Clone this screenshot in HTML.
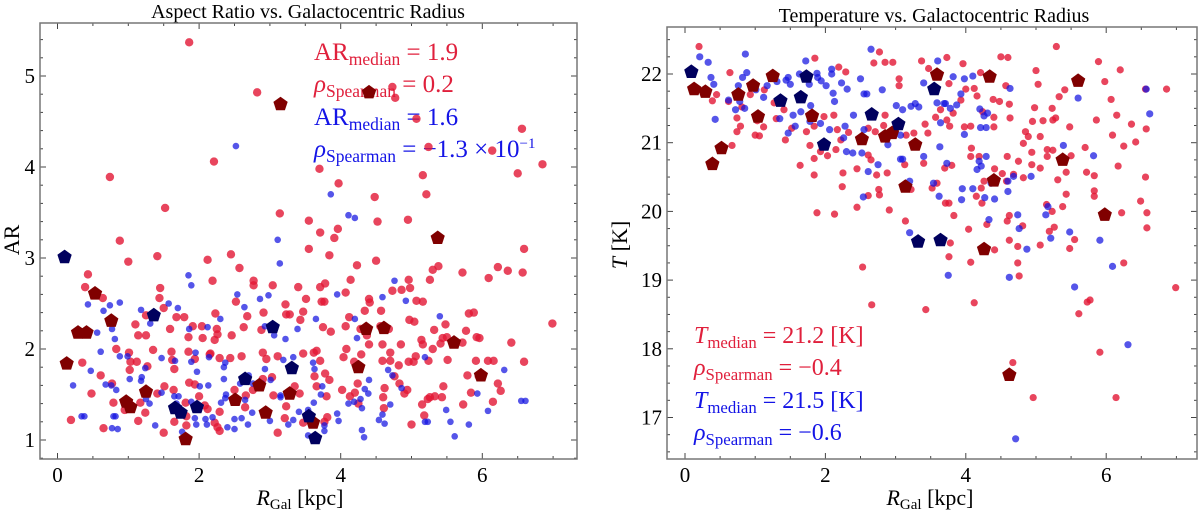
<!DOCTYPE html>
<html><head><meta charset="utf-8"><style>
html,body{margin:0;padding:0;background:#fff;}
svg{display:block;font-family:"Liberation Serif",serif;}
</style></head><body>
<svg id="chart" width="1200" height="512" viewBox="0 0 1200 512">
<rect width="1200" height="512" fill="#fff"/>
<text x="308" y="18" font-size="20" text-anchor="middle">Aspect Ratio vs. Galactocentric Radius</text>
<text x="934" y="22" font-size="20" text-anchor="middle">Temperature vs. Galactocentric Radius</text>
<text x="300" y="505" font-size="22" text-anchor="middle"><tspan font-style="italic">R</tspan><tspan font-size="15" dy="4">Gal</tspan><tspan dy="-4"> [kpc]</tspan></text>
<text x="930" y="505" font-size="22" text-anchor="middle"><tspan font-style="italic">R</tspan><tspan font-size="15" dy="4">Gal</tspan><tspan dy="-4"> [kpc]</tspan></text>
<text transform="translate(19,240) rotate(-90)" font-size="22" text-anchor="middle">AR</text>
<text transform="translate(627,245) rotate(-90)" font-size="22" text-anchor="middle"><tspan font-style="italic">T</tspan> [K]</text>
<g id="lp"></g>
<g id="rp"></g>
</svg>
<script>
const arRed=[[1.86,5.37],[2.82,4.82],[4.73,4.88],[4.77,4.76],[5.07,4.53],[6.56,4.42],[5.24,4.22],[6.14,4.18],[6.85,4.03],[2.21,4.06],[0.74,3.89],[3.7,3.98],[5.16,3.91],[6.5,3.93],[3.97,3.82],[5.21,3.7],[4.48,3.67],[1.52,3.55],[3.14,3.49],[3.55,3.41],[4.52,3.4],[4.95,3.42],[3.96,3.32],[3.71,3.28],[3.91,3.22],[0.88,3.19],[3.55,3.1],[6.59,3.1],[3.84,3.03],[1.41,3.02],[1.0,2.96],[4.5,2.97],[2.12,2.98],[2.45,3.04],[4.23,2.92],[5.38,2.91],[6.22,2.9],[6.36,2.86],[5.3,2.87],[2.57,2.89],[0.43,2.82],[5.72,2.84],[6.57,2.84],[4.96,2.76],[2.19,2.75],[2.77,2.75],[6.09,2.78],[4.14,2.76],[5.26,2.76],[0.39,2.68],[2.77,2.7],[3.04,2.7],[3.71,2.68],[3.78,2.72],[3.4,2.68],[4.98,2.67],[4.86,2.65],[4.07,2.62],[4.73,2.64],[1.45,2.67],[0.64,2.56],[1.44,2.56],[2.52,2.52],[3.51,2.55],[4.4,2.55],[5.07,2.53],[5.16,2.52],[3.73,2.52],[3.77,2.52],[3.22,2.49],[1.5,2.45],[4.41,2.51],[5.81,2.39],[5.88,2.4],[2.23,2.39],[3.47,2.41],[4.57,2.42],[3.23,2.38],[3.28,2.38],[4.34,2.42],[1.25,2.37],[2.68,2.36],[2.91,2.4],[5.48,2.27],[6.99,2.28],[1.68,2.35],[1.79,2.35],[4.12,2.35],[3.43,2.32],[5.77,2.2],[1.1,2.27],[2.63,2.24],[4.97,2.32],[5.04,2.3],[1.91,2.25],[2.04,2.25],[2.25,2.22],[3.75,2.24],[4.07,2.25],[4.56,2.25],[5.32,2.21],[4.68,2.22],[4.28,2.22],[2.88,2.21],[1.59,2.22],[1.25,2.15],[1.14,2.15],[2.26,2.16],[2.46,2.15],[3.86,2.19],[4.37,2.15],[5.5,2.13],[5.44,2.12],[5.92,2.13],[5.14,2.1],[1.85,2.13],[2.05,2.12],[2.22,2.1],[5.72,2.07],[5.96,2.12],[6.41,2.07],[4.59,2.05],[4.85,2.05],[5.41,2.06],[0.83,2.0],[1.01,1.96],[1.35,1.99],[1.61,1.97],[1.85,1.97],[2.16,1.95],[2.9,1.96],[3.62,1.96],[4.08,2.0],[4.4,2.05],[4.7,1.96],[5.06,1.92],[5.16,2.05],[5.3,2.0],[4.96,1.86],[5.51,1.88],[5.91,1.87],[6.08,1.87],[6.16,1.87],[6.59,1.86],[5.24,1.87],[5.03,1.86],[4.59,1.87],[4.7,1.87],[4.29,1.94],[4.19,1.86],[4.04,1.91],[3.71,1.87],[0.35,1.85],[1.03,1.86],[1.12,1.86],[1.62,1.88],[1.94,1.89],[2.15,1.94],[2.29,1.9],[2.44,1.9],[2.6,1.92],[2.95,1.89],[3.11,1.92],[3.47,1.95],[3.66,1.98],[4.82,1.82],[5.79,1.71],[5.95,1.7],[6.22,1.62],[6.26,1.54],[5.84,1.52],[5.45,1.59],[5.33,1.48],[5.43,1.47],[5.26,1.47],[5.15,1.39],[5.23,1.45],[5.73,1.39],[6.15,1.42],[5.18,1.27],[5.0,1.17],[4.94,1.55],[4.9,1.51],[4.83,1.62],[4.76,1.7],[4.62,1.57],[4.6,1.47],[4.61,1.35],[4.24,1.62],[4.2,1.52],[4.13,1.48],[4.02,1.55],[4.25,1.4],[3.84,1.66],[3.78,1.73],[3.63,1.7],[3.66,1.59],[3.8,1.48],[3.81,1.25],[3.77,1.2],[3.59,1.18],[3.47,1.19],[3.42,1.51],[3.35,1.59],[3.23,1.37],[3.21,1.24],[3.11,1.08],[3.05,1.49],[3.03,1.69],[2.9,1.67],[2.76,1.55],[2.66,1.49],[2.65,1.36],[2.5,1.55],[2.5,1.44],[2.29,1.31],[2.26,1.14],[2.29,1.1],[2.22,1.19],[2.12,1.34],[2.08,1.38],[2.0,1.48],[1.94,1.61],[1.86,1.63],[1.81,1.41],[1.82,1.26],[1.82,1.16],[1.65,1.2],[1.64,1.55],[1.65,1.78],[1.51,1.59],[1.41,1.51],[1.5,1.08],[1.24,1.3],[1.14,1.21],[1.17,1.41],[0.95,1.33],[0.79,1.41],[0.65,1.13],[0.77,1.62],[0.61,1.71],[0.48,1.51],[0.19,1.22],[1.02,1.77],[1.27,1.81]];
const arBlue=[[2.52,4.23],[3.86,3.7],[4.11,3.47],[4.2,3.44],[3.11,3.2],[3.14,2.94],[1.85,2.81],[1.89,2.7],[2.54,2.6],[2.98,2.59],[4.76,2.75],[4.92,2.53],[3.95,2.6],[0.88,2.51],[0.43,2.49],[0.74,2.48],[1.57,2.5],[2.86,2.55],[2.64,2.46],[5.4,2.36],[0.65,2.42],[1.18,2.43],[1.7,2.45],[2.3,2.33],[3.65,2.33],[4.59,2.57],[4.2,2.33],[1.31,2.28],[2.93,2.25],[1.86,2.22],[2.12,2.24],[0.56,2.18],[0.77,2.22],[0.41,2.16],[0.81,2.11],[3.22,2.11],[3.06,2.15],[3.39,2.22],[4.23,2.12],[0.61,1.97],[0.88,1.92],[0.99,1.92],[1.95,1.96],[2.14,1.91],[1.89,1.86],[1.66,1.87],[1.47,1.9],[2.37,1.85],[2.35,1.8],[3.19,1.88],[3.33,1.91],[3.61,1.85],[3.63,1.78],[2.93,1.78],[5.19,1.91],[6.31,1.77],[0.47,1.76],[1.24,1.79],[1.97,1.75],[1.02,1.67],[1.18,1.65],[0.76,1.6],[0.83,1.55],[0.22,1.6],[1.19,1.69],[2.7,1.71],[2.76,1.62],[2.35,1.67],[2.58,1.62],[2.89,1.62],[3.01,1.66],[3.74,1.59],[4.4,1.66],[4.67,1.77],[4.73,1.71],[4.86,1.57],[2.01,1.59],[2.13,1.6],[1.65,1.48],[1.71,1.48],[1.47,1.52],[1.25,1.45],[1.3,1.4],[1.68,1.4],[1.89,1.42],[2.31,1.41],[2.37,1.46],[2.65,1.44],[3.15,1.47],[3.15,1.49],[3.72,1.5],[4.34,1.56],[4.39,1.51],[4.28,1.45],[4.19,1.42],[4.7,1.39],[4.11,1.4],[4.3,1.35],[5.49,1.33],[5.93,1.51],[6.08,1.32],[6.55,1.43],[6.61,1.43],[5.19,1.2],[5.23,1.2],[5.55,1.2],[5.81,1.17],[5.61,1.04],[4.59,1.28],[4.62,1.18],[4.54,1.22],[4.33,1.03],[4.3,1.11],[3.95,1.29],[3.97,1.21],[3.77,1.16],[3.77,1.1],[3.54,1.33],[3.41,1.31],[3.33,1.22],[3.26,1.17],[3.54,1.05],[3.62,1.41],[3.0,1.21],[2.75,1.3],[2.69,1.17],[2.6,1.24],[2.5,1.23],[2.5,1.12],[2.4,1.14],[2.38,1.5],[2.19,1.25],[2.11,1.17],[2.09,1.23],[1.94,1.24],[1.96,1.17],[1.76,1.09],[1.38,1.16],[0.82,1.26],[0.79,1.26],[0.85,1.12],[0.77,1.13],[0.34,1.26],[0.38,1.26],[0.68,1.61]];
const arRedPent=[[3.15,4.69],[4.4,4.82],[5.37,3.22],[0.53,2.61],[0.76,2.31],[0.29,2.18],[0.41,2.18],[0.13,1.84],[4.61,2.23],[4.36,2.22],[5.6,2.07],[4.25,1.8],[5.98,1.71],[1.25,1.53],[0.97,1.42],[1.03,1.36],[2.51,1.44],[2.85,1.6],[3.28,1.51],[2.94,1.3],[1.81,1.01],[3.61,1.19]];
const arBluePent=[[0.1,3.01],[1.36,2.37],[3.04,2.24],[3.31,1.79],[2.65,1.67],[1.66,1.35],[1.74,1.3],[1.97,1.36],[3.55,1.26],[3.64,1.02]];
const tRed=[[0.2,22.4],[2.77,22.32],[5.29,22.4],[4.5,22.25],[4.6,22.24],[3.73,22.24],[1.85,22.23],[2.69,22.16],[2.85,22.17],[2.96,22.17],[3.37,22.19],[3.96,22.15],[5.89,22.18],[6.2,22.06],[5.0,22.05],[2.19,22.1],[2.29,22.03],[0.64,22.02],[4.21,22.02],[3.47,22.08],[5.98,21.89],[5.03,21.85],[4.0,21.78],[5.41,21.77],[6.86,21.78],[4.12,21.79],[3.05,21.83],[3.76,21.86],[4.57,21.83],[3.05,21.93],[5.33,21.67],[6.07,21.63],[6.56,21.78],[4.16,21.68],[4.39,21.63],[4.48,21.6],[4.62,21.56],[3.93,21.62],[4.98,21.51],[5.23,21.5],[5.86,21.33],[6.15,21.4],[6.36,21.27],[6.57,21.2],[6.09,21.11],[6.42,21.01],[6.25,20.95],[5.48,21.23],[5.28,21.36],[5.24,21.33],[4.95,21.31],[5.1,21.32],[4.63,21.36],[4.24,21.45],[4.4,21.37],[4.4,21.23],[4.07,21.24],[3.98,21.23],[3.77,21.24],[3.73,21.33],[3.82,21.43],[3.64,21.48],[3.57,21.37],[3.42,21.27],[3.46,21.14],[3.26,21.14],[3.15,21.11],[2.99,21.2],[2.83,21.25],[2.85,21.4],[2.61,21.21],[2.71,21.16],[2.33,21.15],[2.22,21.04],[2.17,21.19],[2.12,21.4],[1.98,21.38],[1.84,21.24],[1.73,21.16],[1.52,21.21],[1.43,21.04],[1.3,21.35],[1.41,21.48],[1.27,21.58],[1.13,21.77],[0.93,21.7],[0.81,21.52],[0.74,21.36],[0.79,21.24],[0.74,21.16],[1.0,21.11],[1.06,21.1],[1.03,21.32],[1.12,21.23],[0.67,20.96],[0.39,21.61],[0.45,21.7],[0.62,21.6],[1.64,20.67],[1.84,20.77],[1.93,20.87],[1.78,20.96],[1.84,20.53],[2.15,20.9],[2.03,20.81],[2.25,20.56],[2.24,20.36],[2.45,20.62],[2.45,20.06],[2.61,20.82],[2.65,20.75],[2.73,20.53],[2.88,20.56],[2.76,20.32],[2.77,20.24],[2.61,20.23],[2.91,20.02],[3.13,20.68],[3.22,20.32],[3.14,19.86],[3.4,20.7],[3.52,20.34],[3.7,20.63],[3.8,20.67],[3.59,20.41],[3.71,20.12],[3.76,20.12],[3.83,19.94],[4.04,19.74],[4.08,20.92],[4.07,20.8],[4.19,20.8],[4.15,20.22],[4.22,20.34],[4.23,20.12],[4.3,19.81],[4.26,20.44],[4.41,20.62],[4.59,20.8],[4.52,20.55],[4.58,20.44],[4.59,19.86],[4.62,19.94],[4.68,20.54],[4.82,20.99],[4.75,20.73],[4.82,20.49],[4.85,21.16],[4.89,21.09],[4.94,20.86],[4.94,20.68],[5.06,21.09],[5.06,20.63],[5.16,20.9],[5.24,20.89],[5.16,20.8],[5.31,20.46],[5.43,20.57],[5.38,20.07],[5.43,20.25],[5.5,20.81],[5.7,20.93],[5.72,20.57],[5.83,20.52],[5.83,20.3],[5.83,20.22],[5.15,20.1],[5.23,20.0],[6.22,19.98],[6.58,19.98],[6.58,19.76],[6.56,20.5],[6.49,20.15],[6.17,20.66],[5.26,19.77],[5.19,19.71],[5.06,19.51],[5.48,19.46],[5.55,19.59],[4.81,19.79],[4.74,19.49],[4.74,19.25],[4.76,19.06],[4.62,19.58],[4.41,19.44],[4.07,19.26],[3.78,19.54],[3.76,19.34],[2.53,19.19],[2.66,18.64],[3.43,18.57],[4.12,18.67],[5.73,18.68],[5.77,18.71],[5.61,18.51],[6.25,19.25],[6.99,18.89],[5.91,17.95],[4.67,17.8],[4.96,17.29],[6.14,17.29],[1.88,19.98],[2.13,19.96]];
const tBlue=[[0.21,22.25],[0.33,22.17],[0.86,22.29],[2.65,22.36],[1.72,22.19],[3.6,22.19],[2.09,22.07],[2.09,22.0],[1.88,22.01],[0.88,22.02],[0.37,21.95],[0.41,21.85],[0.62,21.62],[0.76,21.83],[0.82,21.95],[0.72,21.48],[0.85,21.5],[0.78,21.6],[1.01,21.77],[1.12,21.66],[1.17,21.83],[1.31,21.89],[1.44,21.91],[1.47,21.95],[1.5,21.85],[1.63,22.0],[1.71,21.95],[1.77,21.85],[1.89,21.95],[1.94,21.9],[2.01,21.83],[2.11,21.72],[2.13,21.6],[2.23,21.87],[2.31,21.78],[2.5,21.93],[2.55,21.71],[2.59,21.71],[2.81,21.77],[3.01,21.54],[3.1,21.48],[3.28,21.57],[3.33,21.52],[3.4,21.87],[3.59,21.58],[3.71,21.57],[3.82,21.96],[3.98,21.93],[4.1,21.97],[3.93,21.71],[3.78,21.5],[3.87,21.55],[4.2,21.49],[4.31,21.43],[4.63,21.79],[4.29,21.22],[4.21,21.22],[3.98,21.12],[3.64,21.29],[3.63,20.94],[3.69,21.57],[3.07,21.11],[3.1,20.76],[3.07,20.76],[3.2,20.44],[3.2,19.69],[3.4,20.8],[3.54,20.41],[3.62,20.22],[3.73,20.7],[3.94,20.17],[3.95,20.33],[4.1,20.33],[4.16,20.61],[4.22,20.66],[4.19,20.73],[4.29,20.8],[4.27,20.2],[4.33,19.88],[4.41,20.18],[4.36,20.41],[4.6,20.44],[4.6,20.29],[4.68,20.51],[4.74,19.95],[4.76,19.75],[4.87,19.45],[4.93,20.51],[4.62,19.04],[3.75,19.07],[5.39,20.96],[5.17,20.07],[5.14,19.95],[5.21,19.61],[5.48,19.7],[5.55,18.9],[5.82,20.81],[5.91,19.58],[6.09,19.2],[6.31,18.06],[4.71,16.69],[5.6,21.65],[6.57,21.78],[6.62,21.42],[4.26,21.39],[2.5,21.04],[2.39,20.85],[2.3,20.87],[2.52,20.85],[2.54,20.21],[2.61,20.58],[2.75,20.68],[2.26,21.07],[2.55,21.19],[2.28,21.24],[2.4,21.4],[2.06,21.19],[1.93,21.28],[1.78,21.31],[1.79,21.54],[1.65,21.45],[1.57,21.24],[1.47,21.14],[1.54,21.4],[1.35,21.35],[0.43,21.34],[2.89,20.97],[3.22,21.53]];
const tRedPent=[[0.13,21.78],[0.29,21.74],[0.52,20.92],[0.39,20.69],[0.76,21.7],[0.97,21.83],[1.04,21.38],[1.25,21.97],[1.81,21.39],[2.52,21.05],[2.85,21.09],[2.95,21.14],[3.14,20.36],[3.28,20.97],[3.59,21.99],[4.34,21.96],[4.26,19.45],[4.4,20.45],[4.62,17.62],[5.38,20.75],[5.6,21.9],[5.98,19.95]];
const tBluePent=[[0.09,22.03],[1.36,21.61],[1.65,21.66],[1.73,21.96],[1.98,20.97],[2.66,21.41],[3.04,21.27],[3.32,19.56],[3.64,19.58],[3.55,21.78]];
const leftXTicks=[0,2,4,6];
const leftYTicks=[1,2,3,4,5];
const rightXTicks=[0,2,4,6];
const rightYTicks=[17,18,19,20,21,22];

const NS='http://www.w3.org/2000/svg';
function mk(tag,attrs,parent){const e=document.createElementNS(NS,tag);for(const k in attrs)e.setAttribute(k,attrs[k]);parent.appendChild(e);return e;}
const L={x0:40,x1:577,y0:23,y1:459,sx:v=>57.5+70.8*v,sy:v=>440-91*(v-1),xmin:-0.24,xmax:7.3,ymin:0.79,ymax:5.59};
const R={x0:667,x1:1197,y0:27,y1:459,sx:v=>685+70.2*v,sy:v=>74+68.7*(22-v),xmin:-0.25,xmax:7.3,ymin:16.3,ymax:22.7};
function pent(cx,cy,r){let p=[];for(let i=0;i<5;i++){const a=-Math.PI/2+i*2*Math.PI/5;p.push((cx+r*Math.cos(a)).toFixed(1)+','+(cy+r*Math.sin(a)).toFixed(1));}return p.join(' ');}
function axes(g,P,xt,yt,xMinorStep,yMinorStep){
  for(let v=Math.ceil(P.xmin/xMinorStep)*xMinorStep;v<=P.xmax;v+=xMinorStep){const x=P.sx(v);const major=xt.some(t=>Math.abs(t-v)<1e-6);const len=major?6:3;
    const t1=mk('line',{x1:x,x2:x,y1:P.y1,y2:P.y1-len,stroke:'#444','stroke-width':1},g);
    
    
    mk('line',{x1:x,x2:x,y1:P.y0,y2:P.y0+len,stroke:'#444','stroke-width':1},g);}
  for(let v=Math.ceil(P.ymin/yMinorStep)*yMinorStep;v<=P.ymax;v+=yMinorStep){const y=P.sy(v);const major=yt.some(t=>Math.abs(t-v)<1e-6);const len=major?6:3;
    const t2=mk('line',{x1:P.x0,x2:P.x0+len,y1:y,y2:y,stroke:'#444','stroke-width':1},g);
    
    
    mk('line',{x1:P.x1,x2:P.x1-len,y1:y,y2:y,stroke:'#444','stroke-width':1},g);}
  xt.forEach(v=>{const t=mk('text',{x:P.sx(v),y:P.y1+23,'font-size':21,'text-anchor':'middle'},g);t.textContent=v;
    
    });
  yt.forEach(v=>{const t=mk('text',{x:P.x0-5,y:P.sy(v)+7,'font-size':21,'text-anchor':'end'},g);t.textContent=v;
    
    });
}
function points(g,P,red,blue,rp,bp,rr,br){
  red.forEach(d=>{const c=mk('circle',{cx:P.sx(d[0]),cy:P.sy(d[1]),r:rr,fill:'rgba(226,22,52,0.8)'},g);
    
    });
  blue.forEach(d=>{const c=mk('circle',{cx:P.sx(d[0]),cy:P.sy(d[1]),r:br,fill:'rgba(20,20,225,0.72)'},g);
    
    });
  rp.forEach(d=>{const c=mk('polygon',{points:pent(P.sx(d[0]),P.sy(d[1]),7.5),fill:'#800000'},g);
    
    });
  bp.forEach(d=>{const c=mk('polygon',{points:pent(P.sx(d[0]),P.sy(d[1]),7.5),fill:'#00005e'},g);
    
    });
  const f=mk('rect',{x:P.x0,y:P.y0,width:P.x1-P.x0,height:P.y1-P.y0,fill:'none',stroke:'#777','stroke-width':1.5},g);
  
  
}
function annot(g,x,y,color,size,main,sub,rest,italic,name){
  const t=mk('text',{x:x,y:y,'font-size':size,fill:color},g);
  
  
  t.innerHTML='<tspan'+(italic?' font-style="italic"':'')+'>'+main+'</tspan><tspan font-size="'+(size*0.7)+'" dy="5">'+sub+'</tspan><tspan dy="-5"> '+rest+'</tspan>';
}
const lp=document.getElementById('lp'),rp=document.getElementById('rp');
axes(lp,L,leftXTicks,leftYTicks,0.5,0.2);
axes(rp,R,rightXTicks,rightYTicks,0.5,0.25);
const RC='#e0203c',BC='#1414e6';
annot(lp,314,60,RC,25,'AR','median','= 1.9',false,'ar-median-red');
annot(lp,314,92,RC,25,'ρ','Spearman','= 0.2',true,'rho-red');
annot(lp,314,125,BC,25,'AR','median','= 1.6',false,'ar-median-blue');
annot(lp,314,157,BC,25,'ρ','Spearman','= −1.3 × 10<tspan font-size="15" dy="-9">−1</tspan>',true,'rho-blue');
annot(rp,694,343,RC,24,'T','median','= 21.2 [K]',true,'t-median-red');
annot(rp,694,375,RC,24,'ρ','Spearman','= −0.4',true,'rho-red-t');
annot(rp,694,408,BC,24,'T','median','= 21.5 [K]',true,'t-median-blue');
annot(rp,694,440,BC,24,'ρ','Spearman','= −0.6',true,'rho-blue-t');
points(lp,L,arRed,arBlue,arRedPent,arBluePent,4.2,3.3);
points(rp,R,tRed,tBlue,tRedPent,tBluePent,3.6,3.6);
</script>
</body></html>
